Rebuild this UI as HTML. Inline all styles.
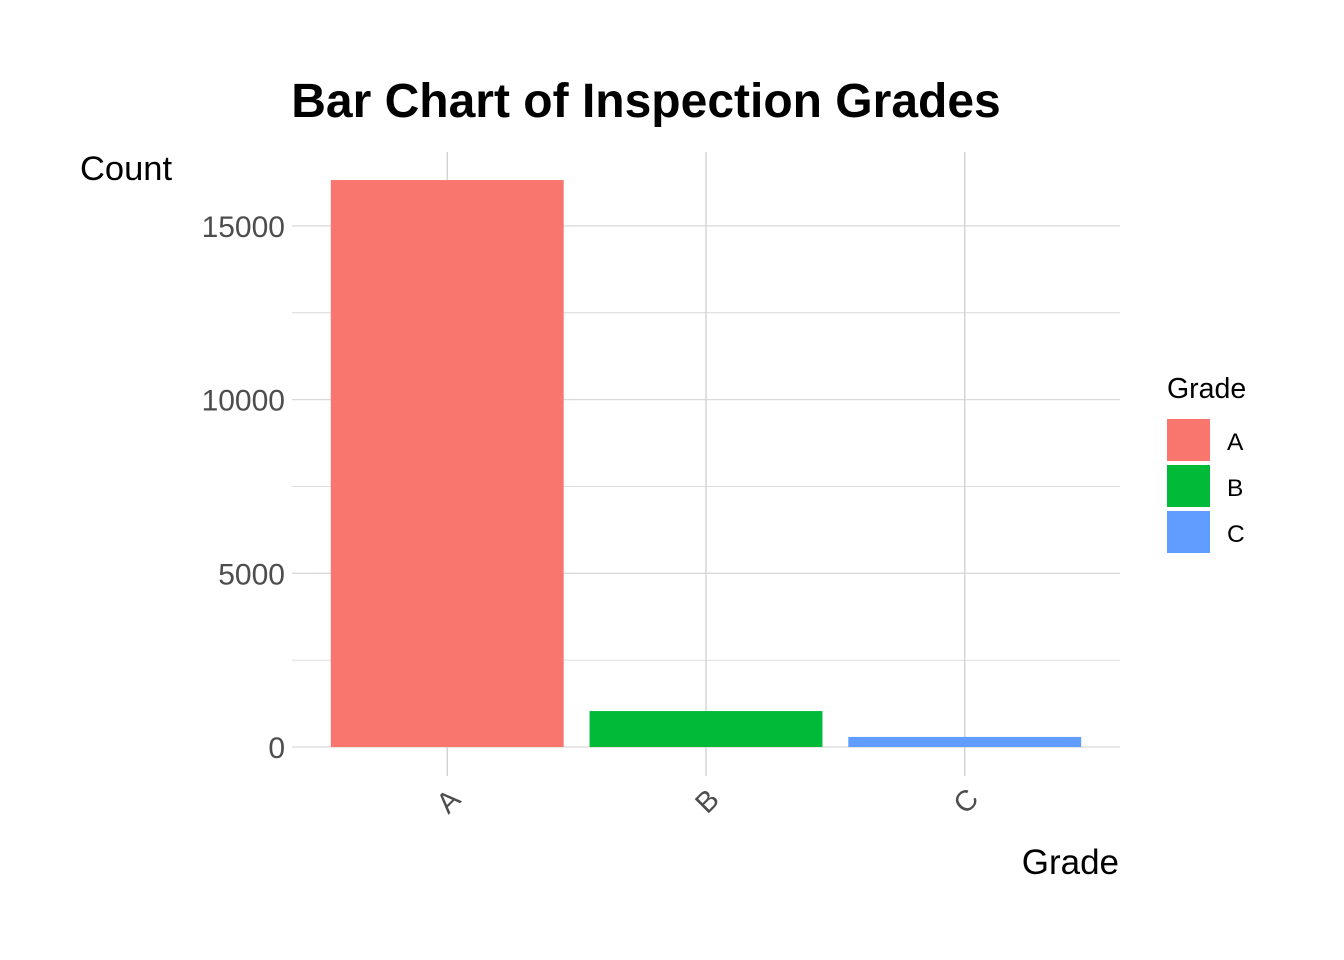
<!DOCTYPE html>
<html><head><meta charset="utf-8"><style>
body{margin:0;background:#fff;}
svg{display:block;font-family:"Liberation Sans",Arial,sans-serif;}
</style></head><body>
<svg id="chart" width="1344" height="960" xmlns="http://www.w3.org/2000/svg">
<text x="646" y="117" text-anchor="middle" font-size="48" font-weight="bold" fill="#000">Bar Chart of Inspection Grades</text>
<text x="80" y="180" font-size="34.5" fill="#000">Count</text>
<text x="1119" y="874" text-anchor="end" font-size="35" fill="#000">Grade</text>
<g id="grid"></g>
<g id="bars"></g>
<g id="axes"></g>
<g id="legend">
<text x="1167" y="398" font-size="28.5" fill="#000">Grade</text>
</g>
</svg>
<script>
const categories = ["A","B","C"];
const counts = [16320, 1035, 290];
const colors = ["#F8766D","#00BA38","#619CFF"];
const yTicks = [0,5000,10000,15000];
const yTickLabels = ["0","5000","10000","15000"];

const NS="http://www.w3.org/2000/svg";
const px0=292, px1=1120, py0=747, pyTop=152;
const y = v => py0 - v*(173.7/5000);
const band = (px1-px0)/3.2;
const x = i => px0 + band*(0.6 + i);
const bw = band*0.9;
function mk(tag, attrs, parent){const e=document.createElementNS(NS,tag);for(const k in attrs)e.setAttribute(k,attrs[k]);parent.appendChild(e);return e;}
const grid=document.getElementById('grid'), bars=document.getElementById('bars'), axes=document.getElementById('axes'), legend=document.getElementById('legend');
for(let v=0; v<=15000; v+=2500){
  const l=mk('line',{x1:px0,x2:px1,y1:y(v),y2:y(v),stroke:'#d9d9d9','stroke-width':v%5000===0?1.3:0.9},grid);
  
  
}
categories.forEach((c,i)=>{
  const l=mk('line',{x1:x(i),x2:x(i),y1:pyTop,y2:776,stroke:'#d0d0d0','stroke-width':1.3},grid);
  
  
  const r=mk('rect',{x:x(i)-bw/2,y:y(counts[i]),width:bw,height:py0-y(counts[i]),fill:colors[i]},bars);
  
  
  const t=mk('text',{x:0,y:0,'text-anchor':'middle','font-size':29,fill:'#4d4d4d',transform:`translate(${x(i)+8},${808}) rotate(-45)`},axes);
  t.textContent=c;
  
  
  const lr=mk('rect',{x:1167,y:419+i*46,width:43,height:42,fill:colors[i]},legend);
  
  
  const lt=mk('text',{x:1227,y:450+i*46,'font-size':24.5,fill:'#000'},legend);
  lt.textContent=c;
  
  
});
yTicks.forEach((v,i)=>{
  const t=mk('text',{x:285,y:y(v)+11,'text-anchor':'end','font-size':30,fill:'#4d4d4d'},axes);
  t.textContent=yTickLabels[i];
  
  
});
</script>
</body></html>
